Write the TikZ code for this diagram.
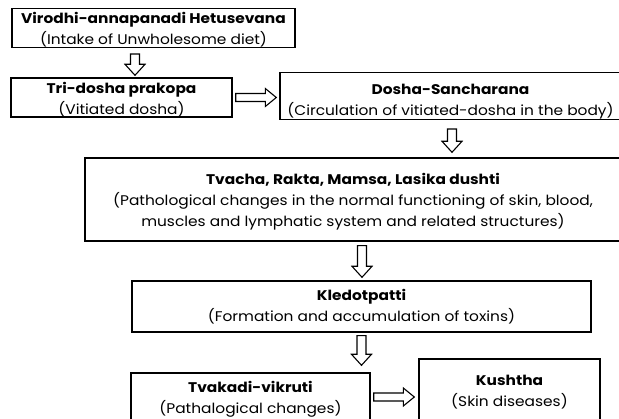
\documentclass[tikz,border=0pt]{standalone}
\usepackage{fontspec}
\setmainfont{Poppins}[FakeStretch=1.1]
\usetikzlibrary{calc}

% bold first line, strut sets its height
\newcommand\head[2][15pt]{\rule{0pt}{#1}\textbf{#2}}
% hollow block arrows between two points
\newcommand\hollowdown[2]{%
  \draw[hollow] let \p1=(#1), \p2=(#2) in
    (\x1-4.5pt,\y1) -- (\x1-4.5pt,\y2+11pt) -- (\x1-10pt,\y2+11pt) -- (\x1,\y2)
    -- (\x1+10pt,\y2+11pt) -- (\x1+4.5pt,\y2+11pt) -- (\x1+4.5pt,\y1) -- cycle;}
\newcommand\hollowright[2]{%
  \draw[hollow] let \p1=(#1), \p2=(#2) in
    (\x1,\y1-4pt) -- (\x2-11pt,\y1-4pt) -- (\x2-11pt,\y1-9pt) -- (\x2,\y1)
    -- (\x2-11pt,\y1+9pt) -- (\x2-11pt,\y1+4pt) -- (\x1,\y1+4pt) -- cycle;}

\begin{document}
\begin{tikzpicture}[x=1pt,y=-1pt,
  box/.style={draw,line width=1.4pt,rectangle,inner sep=0pt,align=center,
    font=\fontsize{14}{21}\selectfont},
  hollow/.style={line width=1.1pt,line join=miter}]
\useasboundingbox (0,0) rectangle (619,419);
\clip (0,0) rectangle (619,419);

\node[box,minimum width=283pt,minimum height=36pt] (hetu) at (153.5,28)
  {\head{Virodhi-annapanadi Hetusevana}\\(Intake of Unwholesome diet)};
\node[box,minimum width=221pt,minimum height=39pt] (prakopa) at (121.5,97.5)
  {\head{Tri-dosha prakopa}\\(Vitiated dosha)};
\node[box,minimum width=341pt,minimum height=36pt] (sanchara) at (450.5,96)
  {\head[22pt]{Dosha-Sancharana}\\(Circulation of vitiated-dosha in the body)};
\node[box,minimum width=536pt,minimum height=83pt] (dushti) at (353,199.5)
  {\head{Tvacha, Rakta, Mamsa, Lasika dushti}\\(Pathological changes in the normal functioning of skin, blood,\\muscles and lymphatic system and related structures)};
\node[box,minimum width=459pt,minimum height=51pt] (kleda) at (361.5,306.5)
  {\head[0pt]{Kledotpatti}\\(Formation and accumulation of toxins)};
\node[box,minimum width=239pt,minimum height=48pt] (vikruti) at (250.5,397)
  {\head{Tvakadi-vikruti}\\(Pathalogical changes)};
\node[box,minimum width=181pt,minimum height=64pt] (kushtha) at (509.5,391)
  {\head[12pt]{Kushtha}\\(Skin diseases)};

\hollowdown{[xshift=-18.5pt,yshift=-6pt]hetu.south}{[yshift=2pt]prakopa.north}
\hollowright{[xshift=3pt]prakopa.east}{[xshift=-3pt]sanchara.west}
\hollowdown{[xshift=1.5pt,yshift=-9pt]sanchara.south}{[yshift=5pt]dushti.north}
\hollowdown{[xshift=9pt,yshift=-4pt]dushti.south}{[yshift=3pt]kleda.north}
\hollowdown{[yshift=-3pt]kleda.south}{[yshift=7pt]vikruti.north}
\hollowright{[xshift=3pt]vikruti.east}{[xshift=-4pt]kushtha.west}
\end{tikzpicture}
\end{document}
